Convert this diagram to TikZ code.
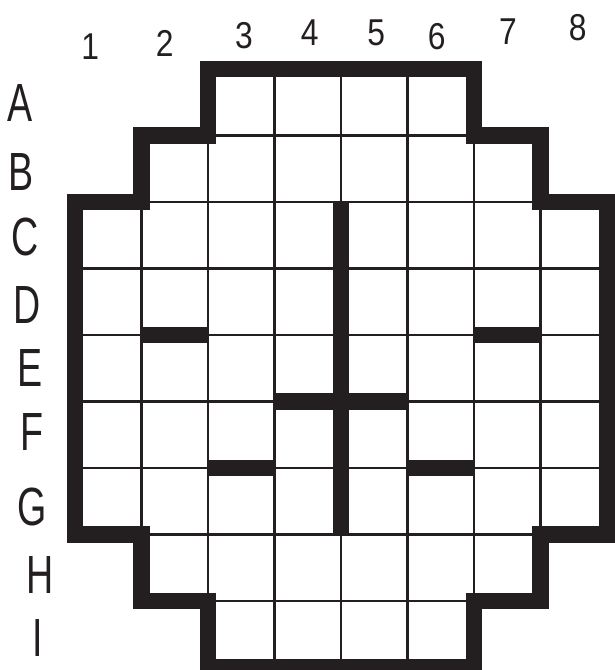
\documentclass[tikz,border=0pt]{standalone}
\usepackage{fontspec}
\setmainfont{Liberation Sans}
\definecolor{ink}{HTML}{231F20}

\begin{document}
\begin{tikzpicture}[
  font=\color{ink},
  board/.style={draw=ink, line width=7pt,
                path picture={\draw[gridline] (0,-9) grid (8,0);}},
  gridline/.style={draw=ink, line width=1.1pt},
  wall/.style={draw=ink, line width=7pt},
  collabel/.style={font=\fontsize{16}{18}\selectfont\color{ink},
                   xscale=0.85, inner sep=0pt},
  rowlabel/.style={font=\fontsize{23}{26}\selectfont\color{ink},
                   xscale=0.7, inner sep=0pt},
]
\useasboundingbox (-1.128,1.038) rectangle (8.12,-9.038);

% ---- Board outline with grid ------------------------------------------------
\draw[board] (2,0) -- (6,0) -- (6,-1) -- (7,-1) -- (7,-2) -- (8,-2)
  -- (8,-7) -- (7,-7) -- (7,-8) -- (6,-8) -- (6,-9) -- (2,-9) -- (2,-8)
  -- (1,-8) -- (1,-7) -- (0,-7) -- (0,-2) -- (1,-2) -- (1,-1) -- (2,-1)
  -- cycle;

% ---- Inner walls --------------------------------------------------------------
\draw[wall] (4,-2) -- (4,-7);
\draw[wall] (1,-4) -- (2,-4);
\draw[wall] (6,-4) -- (7,-4);
\draw[wall] (3,-5) -- (5,-5);
\draw[wall] (2,-6) -- (3,-6);
\draw[wall] (5,-6) -- (6,-6);

% ---- Column numbers -----------------------------------------------------------
\node[collabel] (c1) at (0.23,0.33) {1};
\node[collabel] (c2) at (1.35,0.39) {2};
\node[collabel] (c3) at (2.54,0.50) {3};
\node[collabel] (c4) at (3.53,0.54) {4};
\node[collabel] (c5) at (4.53,0.54) {5};
\node[collabel] (c6) at (5.44,0.48) {6};
\node[collabel] (c7) at (6.51,0.56) {7};
\node[collabel] (c8) at (7.56,0.62) {8};

% ---- Row letters ------------------------------------------------------------
\node[rowlabel] (rA) at (-0.83,-0.51) {A};
\node[rowlabel] (rB) at (-0.81,-1.55) {B};
\node[rowlabel] (rC) at (-0.75,-2.53) {C};
\node[rowlabel] (rD) at (-0.72,-3.55) {D};
\node[rowlabel] (rE) at (-0.68,-4.50) {E};
\node[rowlabel] (rF) at (-0.65,-5.46) {F};
\node[rowlabel] (rG) at (-0.65,-6.59) {G};
\node[rowlabel] (rH) at (-0.53,-7.61) {H};
\node[rowlabel] (rI) at (-0.56,-8.56) {I};

\end{tikzpicture}
\end{document}
